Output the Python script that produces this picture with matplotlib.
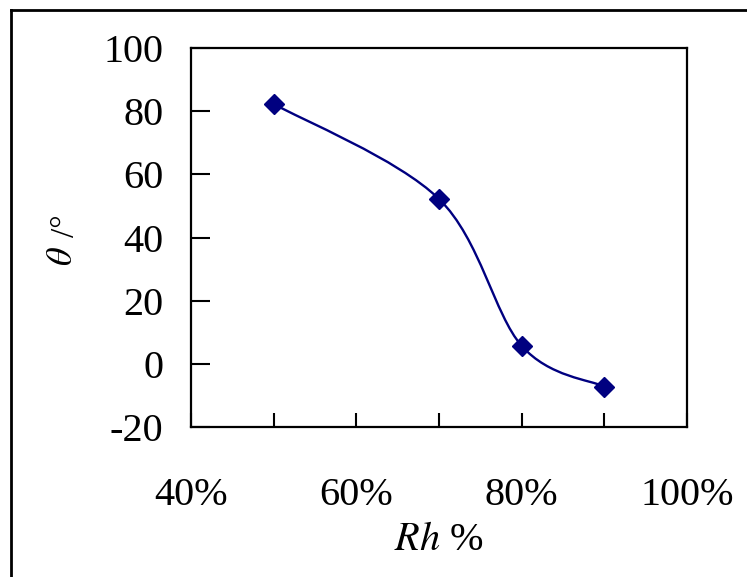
import numpy as np
import matplotlib.pyplot as plt
from matplotlib.path import Path
from matplotlib.patches import PathPatch
from matplotlib.ticker import MultipleLocator, FuncFormatter

plt.rcParams['font.family'] = ['Liberation Serif', 'DejaVu Serif']
plt.rcParams['mathtext.fontset'] = 'stix'
plt.rcParams['axes.unicode_minus'] = False

rh = [0.50, 0.70, 0.80, 0.90]
theta = [82.3, 52.2, 5.7, -7.2]

fig = plt.figure(figsize=(7.47, 5.77), dpi=100)
ax = fig.add_axes([191 / 747, 1 - 427 / 577, (687 - 191) / 747, (427 - 48) / 577])

ax.set_xlim(0.4, 1.0)
ax.set_ylim(-20, 100)

# smoothed line (catmull-rom style bezier, done in axes coords like Excel does)
trans = ax.transData + ax.transAxes.inverted()
pts = trans.transform(np.column_stack([rh, theta]))
verts = [pts[0]]
codes = [Path.MOVETO]
n = len(pts)
for i in range(n - 1):
    p0 = pts[max(i - 1, 0)]
    p1 = pts[i]
    p2 = pts[i + 1]
    p3 = pts[min(i + 2, n - 1)]
    c1 = p1 + (p2 - p0) / 6
    c2 = p2 - (p3 - p1) / 6
    verts += [c1, c2, p2]
    codes += [Path.CURVE4] * 3
ax.add_patch(PathPatch(Path(verts, codes), transform=ax.transAxes,
                       facecolor='none', edgecolor='#000080', lw=1.7))
ax.plot(rh, theta, linestyle='none', marker='D', ms=10, color='#000080')

ax.xaxis.set_major_locator(MultipleLocator(0.2))
ax.xaxis.set_minor_locator(MultipleLocator(0.1))
ax.yaxis.set_major_locator(MultipleLocator(20))
ax.xaxis.set_major_formatter(FuncFormatter(lambda v, p: f"{v * 100:.0f}%"))
ax.tick_params(axis='x', which='both', direction='in', length=10, width=1.5,
               labelsize=29, pad=36)
ax.tick_params(axis='y', direction='in', length=14, width=1.5, labelsize=29, pad=20)
for s in ax.spines.values():
    s.set_linewidth(1.6)

ax.set_xlabel(r'$Rh$ %', fontsize=29, labelpad=6)

# y label: italic theta with a smaller "/°" above it
fig.text(63 / 747, 1 - 256 / 577, r'$\theta$', fontsize=26, rotation=90,
         ha='center', va='center')
fig.text(66 / 747, 1 - 226 / 577, '/°', fontsize=24, rotation=90,
         ha='center', va='center')

# outer frame
fig.add_artist(plt.Line2D([11 / 747, 11 / 747], [0, 1 - 10 / 577], color='black', lw=2))
fig.add_artist(plt.Line2D([11 / 747, 1], [1 - 10 / 577, 1 - 10 / 577], color='black', lw=2))

fig.savefig('out.png', dpi=100)
